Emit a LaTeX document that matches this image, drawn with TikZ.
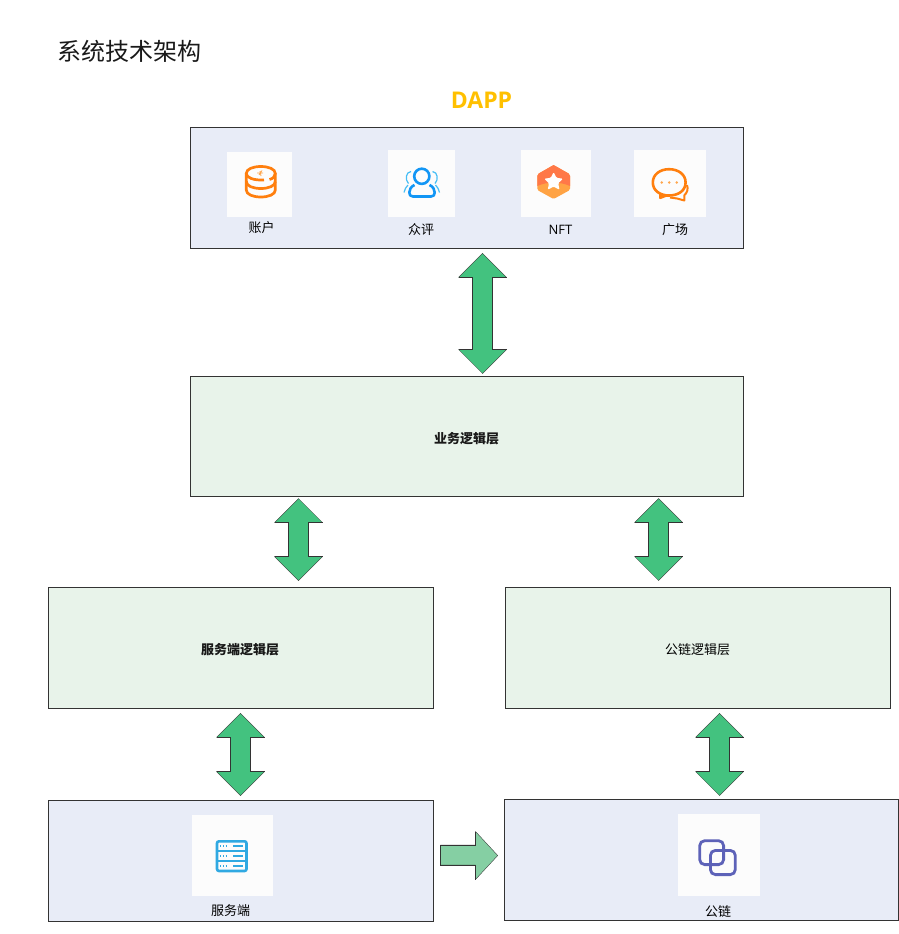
\documentclass[tikz,border=0pt]{standalone}
\usepackage{fontspec}
\setmainfont{Noto Sans CJK SC}
\newfontfamily\latinfont{Open Sans}
\definecolor{bluebox}{HTML}{E8ECF7}
\definecolor{greenbox}{HTML}{E8F3EA}
\definecolor{arrowgreen}{HTML}{43C27F}
\definecolor{arrowpale}{HTML}{85CFA3}
\definecolor{edgegrey}{HTML}{333333}
\definecolor{iconorange}{HTML}{FF7F0E}
\definecolor{iconblue}{HTML}{1296F5}
\definecolor{iconpale}{HTML}{46BEF5}
\definecolor{iconsky}{HTML}{30A9E2}
\definecolor{iconviolet}{HTML}{5D62B8}
\definecolor{dappyellow}{HTML}{FFC000}
\definecolor{nftlight}{HTML}{FFA344}
\definecolor{nftdark}{HTML}{FF7848}
\tikzset{
  x=1pt,y=-1pt,
  panel/.style={draw=edgegrey,line width=0.9pt,inner sep=0pt,outer sep=0pt},
  bluepanel/.style={panel,fill=bluebox},
  greenpanel/.style={panel,fill=greenbox},
  tile/.style={fill=white!99!black,draw=none,inner sep=0pt,outer sep=0pt},
  caption/.style={inner sep=0pt,font=\fontsize{13}{15}\selectfont,text=black},
  boldlabel/.style={inner sep=0pt,font=\bfseries\fontsize{13}{15}\selectfont,text=black!90},
  blockarrow/.style={fill=arrowgreen,draw=edgegrey,line width=0.35pt,line join=miter},
  blockedge/.style={draw=edgegrey,line width=1pt,line cap=butt},
}
% cx, top, bottom
\newcommand{\twoway}[3]{%
  \draw[blockarrow] (#1,#2) -- ++(24,24) -- ++(-14,0) -- (#1+10,#3-24) -- ++(14,0)
    -- (#1,#3) -- (#1-24,#3-24) -- ++(14,0) -- (#1-10,#2+24) -- ++(-14,0) -- cycle;
  \draw[blockedge] (#1+24,#2+24) -- (#1+10,#2+24) -- (#1+10,#3-24) -- (#1+24,#3-24);
  \draw[blockedge] (#1-24,#2+24) -- (#1-10,#2+24) -- (#1-10,#3-24) -- (#1-24,#3-24);}
\newcommand{\panelbox}[6]{% style,name,x0,y0,x1,y1
  \node[#1,minimum width=#5pt-#3pt,minimum height=#6pt-#4pt,anchor=north west] (#2) at (#3,#4) {};}
\newcommand{\tilebox}[5]{%
  \node[tile,minimum width=#4pt-#2pt,minimum height=#5pt-#3pt,anchor=north west] (#1) at (#2,#3) {};}
\begin{document}
\begin{tikzpicture}
\useasboundingbox (0,0) rectangle (899,934);
\fill[white] (0,0) rectangle (899,934);
\node[inner sep=0pt,anchor=west,font=\fontsize{24}{28}\selectfont,text=black!90] (title) at (57,51) {系统技术架构};
\node[inner sep=0pt,font=\latinfont\bfseries\fontsize{23}{26}\selectfont,text=dappyellow] (dapp) at (481.5,100) {DAPP};

\panelbox{bluepanel}{top}{190.5}{127.5}{743.5}{248}
\panelbox{greenpanel}{biz}{190.5}{376.5}{743.5}{496.5}
\panelbox{greenpanel}{srvlogic}{48.5}{587.5}{433.5}{708.5}
\panelbox{greenpanel}{chainlogic}{505.5}{587.5}{890.5}{708.5}
\panelbox{bluepanel}{srv}{48.5}{800.5}{433.5}{921.5}
\panelbox{bluepanel}{chain}{504.5}{799.5}{898.5}{920.5}

\node[boldlabel] (bizlabel) at (466.5,438.5) {业务逻辑层};
\node[boldlabel] (srvlabel) at (240,649.5) {服务端逻辑层};
\node[caption] (chainlabel) at (697.5,649.5) {公链逻辑层};

\twoway{482.5}{253.3}{373.5}
\twoway{298.5}{498.5}{580.5}
\twoway{658.5}{498.5}{580.5}
\twoway{240.5}{713.3}{795.5}
\twoway{719.5}{713.3}{795.5}
\draw[blockarrow,fill=arrowpale] (440.5,845) -- (475.5,845) -- (475.5,831.5) -- (497.7,855.5) -- (475.5,879.5) -- (475.5,865) -- (440.5,865) -- cycle;
\draw[blockedge] (475.5,831.5) -- (475.5,845) -- (440.5,845) -- (440.5,865) -- (475.5,865) -- (475.5,879.5);

% tiles
\tilebox{t1}{227}{152}{292}{217}
\tilebox{t2}{388}{150}{455}{217}
\tilebox{t3}{521}{150}{591}{217}
\tilebox{t4}{634}{150}{706}{217}
\tilebox{t5}{192}{815}{273}{896}
\tilebox{t6}{678}{814}{760}{896}

\node[caption] (c1) at (261.5,228) {账户};
\node[caption] (c2) at (421,229.5) {众评};
\node[caption,font=\latinfont\fontsize{13}{15}\selectfont] (c3) at (560.5,229.5) {NFT};
\node[caption] (c4) at (675,230) {广场};
\node[caption] (c5) at (230.5,910.5) {服务端};
\node[caption] (c6) at (718,911) {公链};

% account icon
\begin{scope}[draw=iconorange,line width=2.7pt,line cap=butt]
  \draw (264,180) .. controls (253,180.5) and (246.3,177.5) .. (246.3,173.5) .. controls (246.3,169) and (253,166.5) .. (260.8,166.5) .. controls (268.5,166.5) and (275.3,169) .. (275.3,173.5) .. controls (275.3,176.5) and (273,178.5) .. (269.5,179.5);
  \draw (246.3,173.5) -- (246.3,190) .. controls (246.3,194.5) and (253,197) .. (260.8,197) .. controls (268.5,197) and (275.3,194.5) .. (275.3,190) -- (275.3,173.5);
  \draw (246.3,181.5) .. controls (246.3,186) and (253,188.5) .. (260.8,188.5) .. controls (268.5,188.5) and (275.3,186) .. (275.3,181.5);
  \draw[line width=0.8pt,draw=orange!70] (257,173) -- (263,173) (260,171) -- (261,176) (262,170.5) -- (259,175);
\end{scope}
% people icon
\draw[iconblue,line width=2.6pt] (421.8,176.3) circle[radius=7.6];
\draw[iconblue,line width=2.6pt,line join=round] (414.5,185) .. controls (411,186.5) and (409.3,189.5) .. (409.3,192.5) .. controls (409.3,195) and (410.5,196.5) .. (413,196.5) -- (431,196.5) .. controls (433.5,196.5) and (434.7,195) .. (434.7,192.5) .. controls (434.7,189.5) and (433,186.5) .. (429.5,185);
\draw[iconpale,line width=1.2pt] (411,171.5) .. controls (405.5,172) and (405,180) .. (408.5,183.5) (408,185) .. controls (406,187) and (404.5,189.5) .. (404,192.5);
\draw[iconpale,line width=1.2pt] (432.5,171.5) .. controls (438,172) and (438.5,180) .. (435,183.5) (435.5,185) .. controls (437.5,187) and (439,189.5) .. (439.5,192.5);
% NFT icon
\fill[nftlight,rounded corners=1.5pt] (553.6,165) -- (570,174.3) -- (570,190) -- (553.6,199) -- (537.3,190) -- (537.3,174.3) -- cycle;
\fill[nftdark] (553.6,165) .. controls (553.8,165) and (554,165.1) .. (555,165.8) -- (568.5,173.5) .. controls (569.7,174.2) and (570,174.6) .. (570,176) -- (570,186) .. controls (560,181.5) and (547,181.5) .. (537.3,186) -- (537.3,176) .. controls (537.3,174.6) and (537.6,174.2) .. (538.8,173.5) -- (552.2,165.8) .. controls (553.2,165.1) and (553.4,165) .. (553.6,165) -- cycle;
\fill[white,rounded corners=1.2pt] (553.6,172) -- (556.4,177.8) -- (563,178.7) -- (558.2,183.2) -- (559.5,189.8) -- (553.6,186.6) -- (547.7,189.8) -- (549,183.2) -- (544.2,178.7) -- (550.8,177.8) -- cycle;
% chat icon
\draw[iconorange,line width=2.6pt,line join=round] (669,195.5) .. controls (660,195.5) and (652.8,190.5) .. (652.8,182.5) .. controls (652.8,174.5) and (660,169.2) .. (669,169.2) .. controls (678.5,169.2) and (685.6,174.5) .. (685.6,182.5) .. controls (685.6,190.5) and (678.5,195.5) .. (669,195.5) -- (666,195.5) -- (660.3,197.8) -- (660.3,192.5);
\draw[iconorange,line width=2pt,line join=round] (687,185) .. controls (688.5,189) and (687,193) .. (684.5,195) -- (684.3,200.5) -- (677,198.5) -- (670,197.5);
\fill[orange!70] (661.7,182.5) circle[radius=1.4] (669.2,182.5) circle[radius=1.4] (676.7,182.5) circle[radius=1.4];
% server icon
\draw[iconsky,line width=2.6pt,rounded corners=2pt] (217,841.3) rectangle (246.5,871);
\draw[iconsky,line width=2pt] (217,851) -- (246.5,851) (217,861) -- (246.5,861);
\foreach \y in {846,856,866}{
  \draw[iconsky,line width=1.6pt] (233,\y) -- (243,\y);
  \draw[iconsky,line width=1.4pt,dash pattern=on 1.4pt off 1.4pt] (220,\y) -- (228,\y);
}
% chain icon
\draw[iconviolet,line width=2.8pt,rounded corners=5pt] (699.7,840.7) rectangle (723.6,864.6);
\draw[iconviolet,line width=2.8pt,rounded corners=5pt] (710.4,850.4) rectangle (735.3,874.6);
\end{tikzpicture}
\end{document}
